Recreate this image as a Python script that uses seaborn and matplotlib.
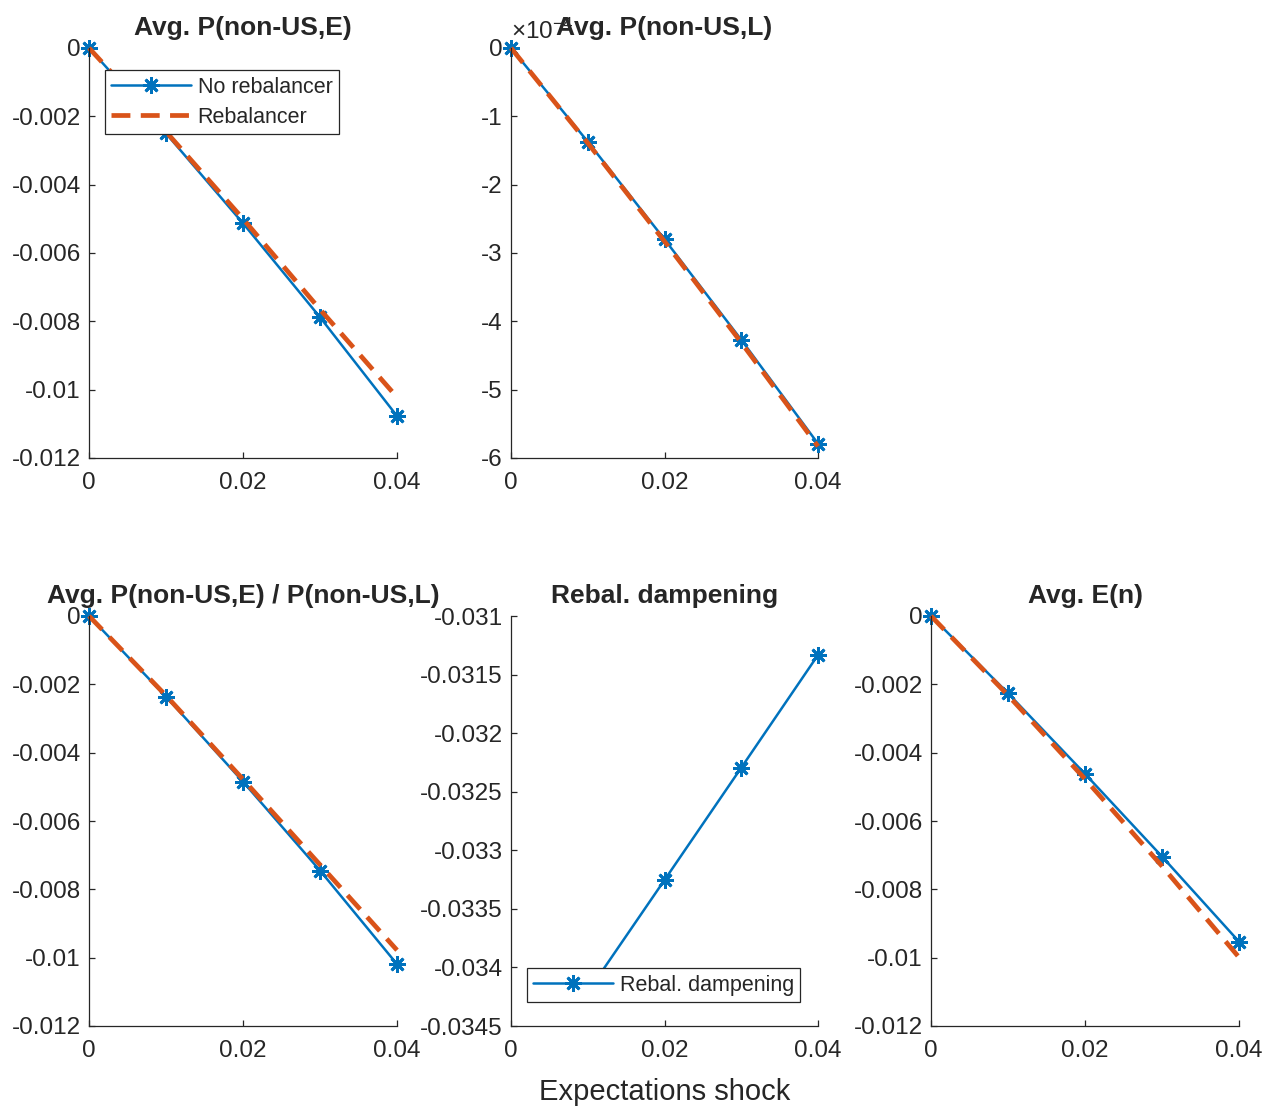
import numpy as np
import matplotlib
matplotlib.use("Agg")
import matplotlib.pyplot as plt
from matplotlib.ticker import FixedLocator, FuncFormatter
import seaborn as sns

# ---- data -------------------------------------------------------------
shock = [0.0, 0.01, 0.02, 0.03, 0.04]

p_e_norebal = [0.0, -0.00250, -0.00513, -0.00788, -0.01077]
p_e_rebal = [0.0, -0.00245, -0.00500, -0.00765, -0.01022]

p_l_norebal = [0.0, -1.37e-4, -2.80e-4, -4.27e-4, -5.79e-4]
p_l_rebal = [0.0, -1.39e-4, -2.83e-4, -4.31e-4, -5.83e-4]

ratio_norebal = [0.0, -0.00236, -0.00485, -0.00745, -0.01019]
ratio_rebal = [0.0, -0.00233, -0.00478, -0.00728, -0.00978]

dampening = [np.nan, -0.03421, -0.033254, -0.032295, -0.031333]

en_norebal = [0.0, -0.00226, -0.00462, -0.00704, -0.00953]
en_rebal = [0.0, -0.00232, -0.00477, -0.00732, -0.00999]

titles = ["Avg. P(non-US,E)", "Avg. P(non-US,L)",
          "Avg. P(non-US,E) / P(non-US,L)", "Rebal. dampening", "Avg. E(n)"]
x_ticks = [0.0, 0.02, 0.04]
xlabel = "Expectations shock"
legend_labels = ["No rebalancer", "Rebalancer"]
damp_label = "Rebal. dampening"

# ---- style ------------------------------------------------------------
sns.set_style("ticks")
plt.rcParams.update({
    "font.family": ["Liberation Sans", "DejaVu Sans"],
    "axes.unicode_minus": False,
    "mathtext.fontset": "custom",
    "mathtext.rm": "Liberation Sans",
    "mathtext.it": "Liberation Sans",
    "axes.edgecolor": "#262626",
    "axes.linewidth": 0.9,
    "xtick.color": "#262626",
    "ytick.color": "#262626",
    "xtick.direction": "in",
    "ytick.direction": "in",
})

BLUE = "#0072BD"
ORANGE = "#D95319"
TICK_FS = 17.5
LEG_FS = 15.5
TITLE_FS = 19

W, H = 1264, 1106
fig = plt.figure(figsize=(W / 100, H / 100), dpi=100)


def make_axes(x0, x1, y0, y1):
    return fig.add_axes([x0 / W, 1 - y1 / H, (x1 - x0) / W, (y1 - y0) / H])


cols = [(89, 397), (511, 818), (931, 1239)]
rows = [(48, 458), (616, 1026)]

ax_pe = make_axes(*cols[0], *rows[0])
ax_pl = make_axes(*cols[1], *rows[0])
ax_ratio = make_axes(*cols[0], *rows[1])
ax_damp = make_axes(*cols[1], *rows[1])
ax_en = make_axes(*cols[2], *rows[1])

fmt_g = FuncFormatter(lambda v, pos: "%g" % round(v, 6))
fmt_e4 = FuncFormatter(lambda v, pos: "%g" % round(v * 1e4, 6))

line_kw_blue = dict(color=BLUE, linewidth=1.8, marker=(8, 2, 0),
                    markersize=12, markeredgewidth=2.0, markeredgecolor=BLUE,
                    clip_on=False)
line_kw_red = dict(color=ORANGE, linewidth=3.4, linestyle=(0, (4, 2.2)),
                   marker=None, clip_on=False)


def draw_pair(ax, y_no, y_re):
    sns.lineplot(x=shock, y=y_no, ax=ax, label=legend_labels[0], legend=False,
                 **line_kw_blue)
    sns.lineplot(x=shock, y=y_re, ax=ax, label=legend_labels[1], legend=False,
                 **line_kw_red)


def style_axes(ax, title, ylim, yticks, yfmt):
    ax.set_xlim(0, 0.04)
    ax.set_ylim(*ylim)
    ax.xaxis.set_major_locator(FixedLocator(x_ticks))
    ax.xaxis.set_major_formatter(fmt_g)
    ax.yaxis.set_major_locator(FixedLocator(yticks))
    ax.yaxis.set_major_formatter(yfmt)
    ax.tick_params(axis="both", labelsize=TICK_FS, length=4, width=0.9)
    ax.tick_params(axis="y", pad=6)
    ax.tick_params(axis="x", pad=10)
    ax.set_xlabel("")
    ax.set_ylabel("")
    ax.set_title(title, fontsize=TITLE_FS, fontweight="bold", pad=9)
    sns.despine(ax=ax)


ticks_main = [-0.012, -0.010, -0.008, -0.006, -0.004, -0.002, 0.0]

draw_pair(ax_pe, p_e_norebal, p_e_rebal)
style_axes(ax_pe, titles[0], (-0.012, 0), ticks_main, fmt_g)
leg = ax_pe.legend(loc="upper left", bbox_to_anchor=(0.052, 0.946),
                   borderaxespad=0, fontsize=LEG_FS, handlelength=3.7,
                   handletextpad=0.3, labelspacing=0.42, borderpad=0.3,
                   fancybox=False, framealpha=1, edgecolor="#262626")
leg.get_frame().set_linewidth(0.9)

draw_pair(ax_pl, p_l_norebal, p_l_rebal)
style_axes(ax_pl, titles[1], (-6e-4, 0),
           [-6e-4, -5e-4, -4e-4, -3e-4, -2e-4, -1e-4, 0.0], fmt_e4)
ax_pl.text(0.0, 1.01, r"$\times10^{-4}$", transform=ax_pl.transAxes,
           ha="left", va="bottom", fontsize=TICK_FS, color="#262626")

draw_pair(ax_ratio, ratio_norebal, ratio_rebal)
style_axes(ax_ratio, titles[2], (-0.012, 0), ticks_main, fmt_g)

sns.lineplot(x=shock, y=dampening, ax=ax_damp, label=damp_label, legend=False,
             **line_kw_blue)
style_axes(ax_damp, titles[3], (-0.0345, -0.031),
           [-0.0345, -0.034, -0.0335, -0.033, -0.0325, -0.032, -0.0315, -0.031],
           fmt_g)
leg2 = ax_damp.legend(loc="lower left", bbox_to_anchor=(0.052, 0.0585),
                      borderaxespad=0, fontsize=LEG_FS, handlelength=3.7,
                      handletextpad=0.3, borderpad=0.3, fancybox=False,
                      framealpha=1, edgecolor="#262626")
leg2.get_frame().set_linewidth(0.9)
leg2.set_zorder(5)

draw_pair(ax_en, en_norebal, en_rebal)
style_axes(ax_en, titles[4], (-0.012, 0), ticks_main, fmt_g)

fig.text(664.5 / W, 1 - 1092 / H, xlabel, ha="center", va="center",
         fontsize=21, color="#262626")

fig.savefig("out.png", dpi=100, facecolor="white")
